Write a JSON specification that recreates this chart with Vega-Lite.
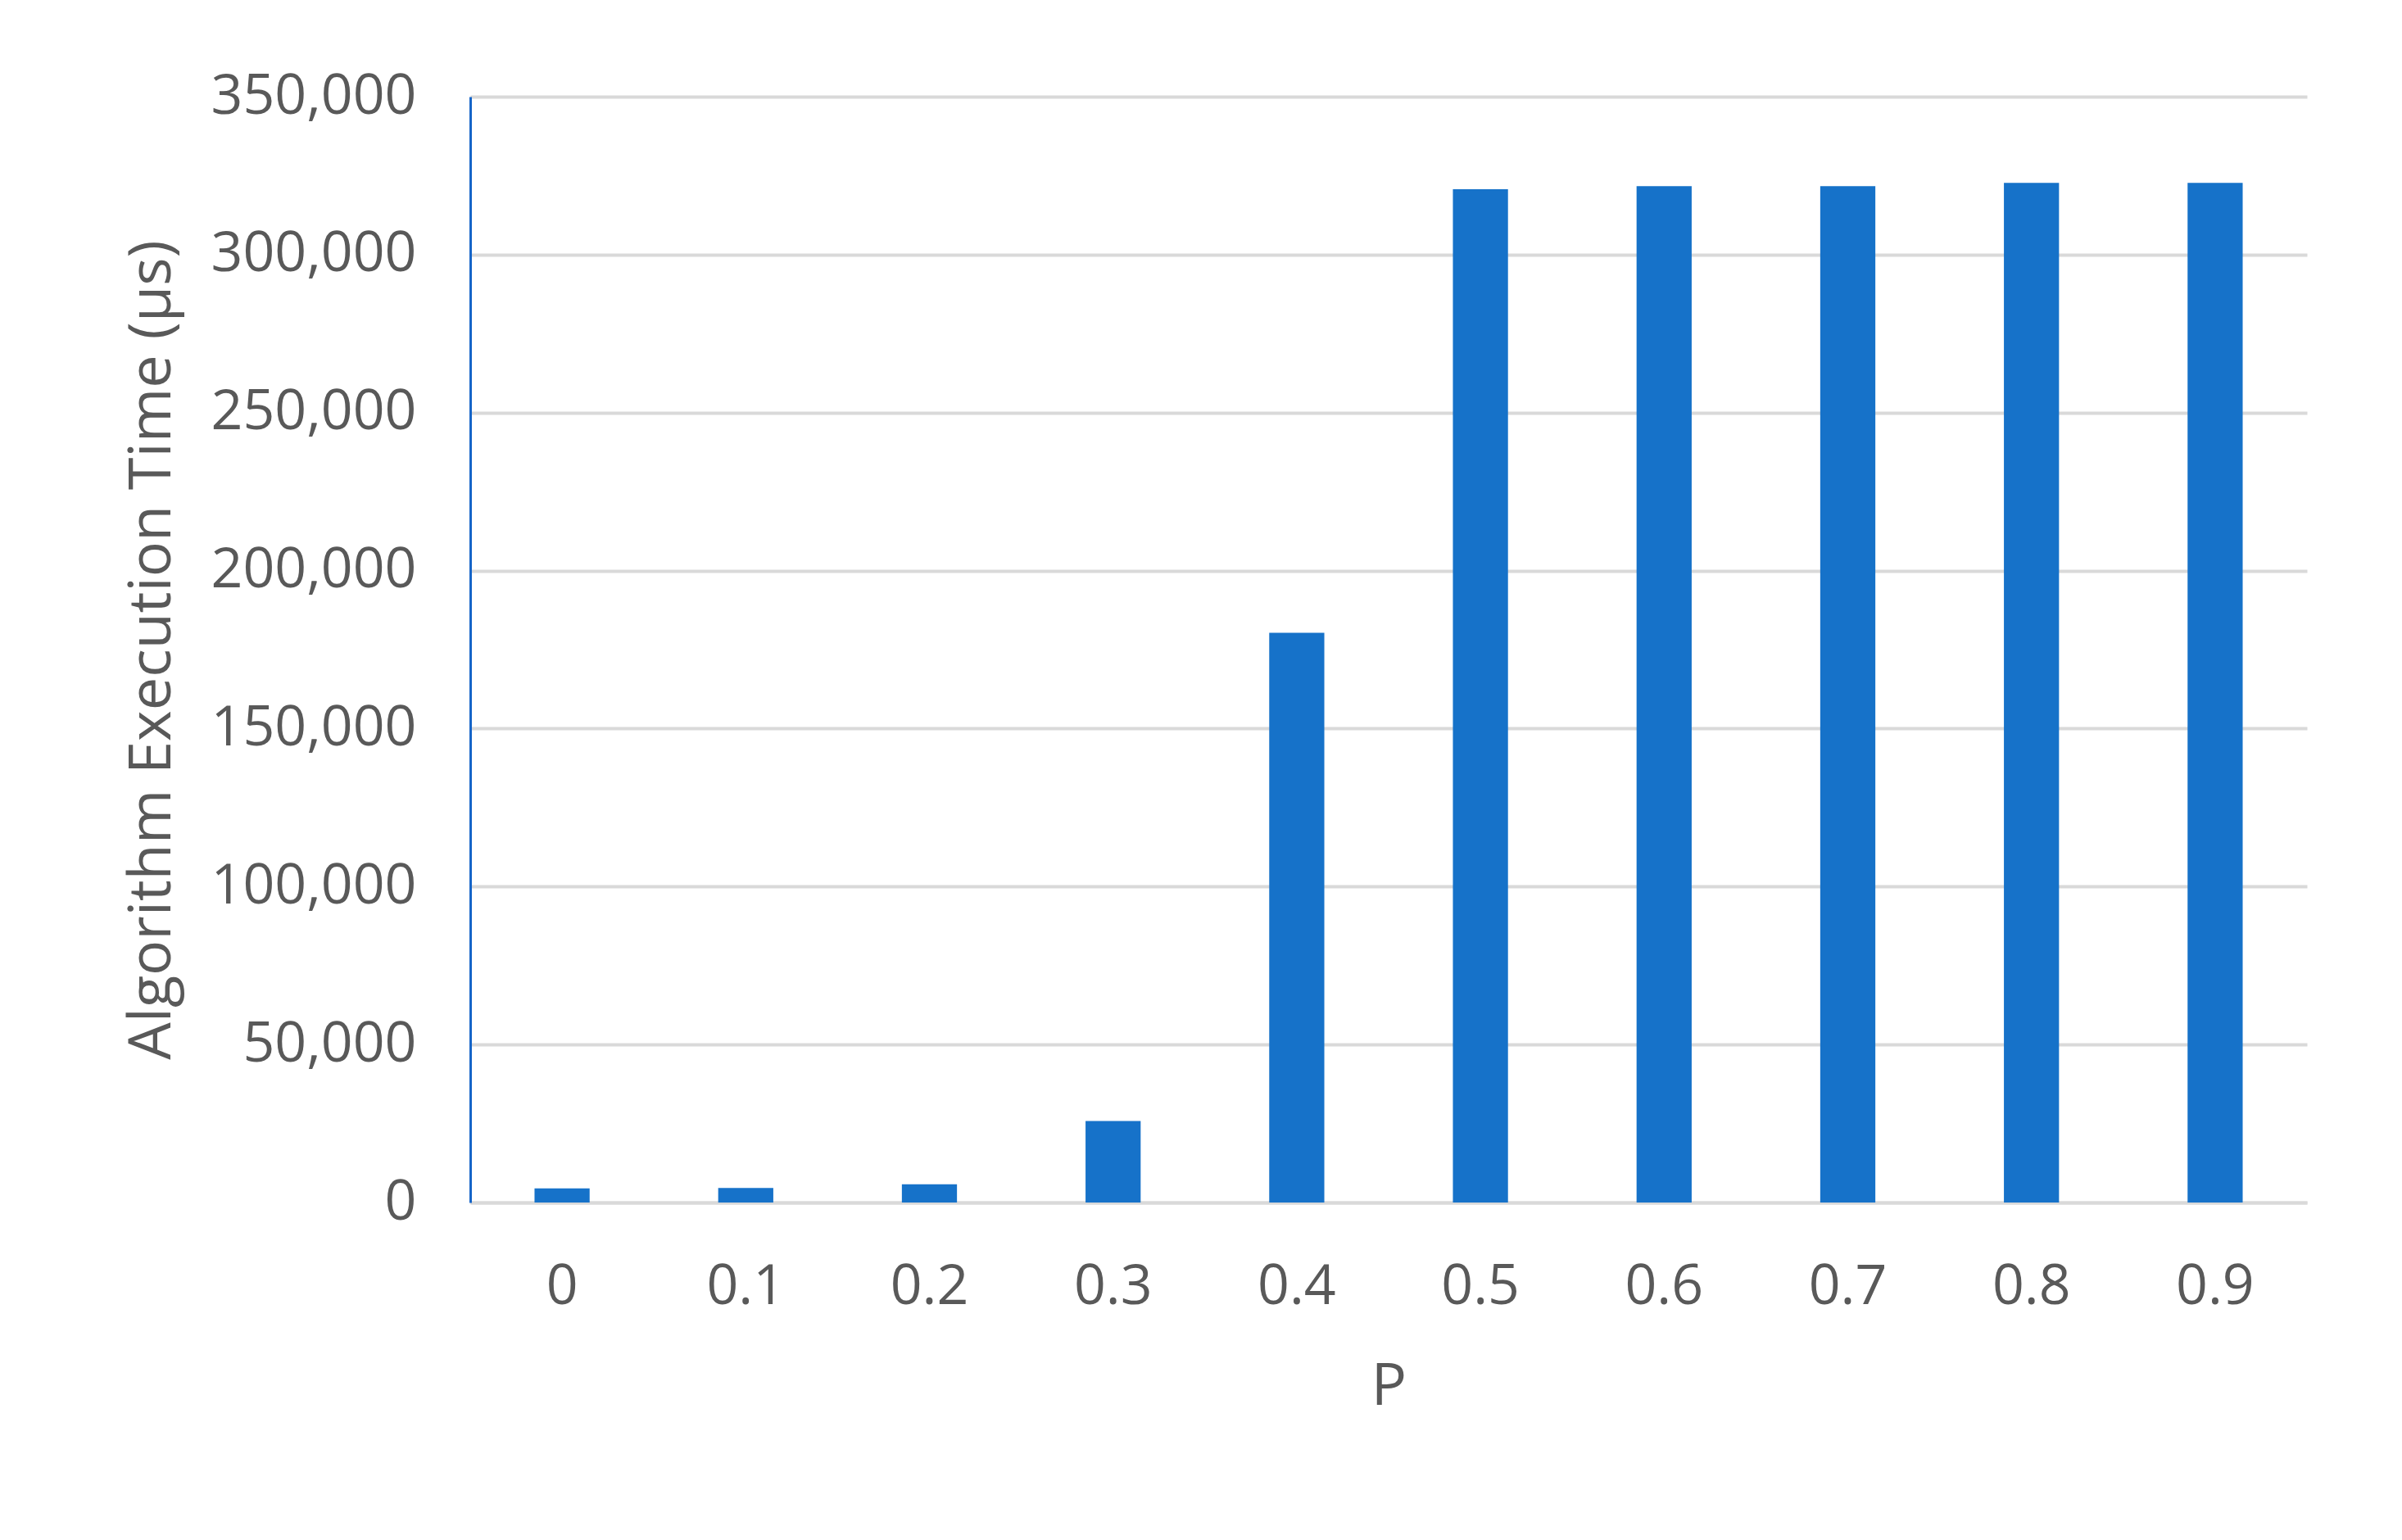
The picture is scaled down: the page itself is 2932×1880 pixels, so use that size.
{
  "$schema": "https://vega.github.io/schema/vega-lite/v6.json",
  "width": 2242,
  "height": 1350,
  "autosize": {"type": "none"},
  "padding": {"left": 574, "top": 118, "right": 116, "bottom": 412},
  "background": "white",
  "config": {
    "view": {"stroke": null},
    "font": "Open Sans"
  },
  "data": {
    "values": [
      {"P": "0", "time": 4500},
      {"P": "0.1", "time": 4600},
      {"P": "0.2", "time": 5800},
      {"P": "0.3", "time": 25800},
      {"P": "0.4", "time": 180300},
      {"P": "0.5", "time": 320700},
      {"P": "0.6", "time": 321700},
      {"P": "0.7", "time": 321700},
      {"P": "0.8", "time": 322700},
      {"P": "0.9", "time": 322700}
    ]
  },
  "layer": [
    {
      "mark": {"type": "bar", "color": "#1672C9"},
      "encoding": {
        "x": {
          "field": "P",
          "type": "ordinal",
          "sort": null,
          "scale": {"paddingInner": 0.7, "paddingOuter": 0.35},
          "axis": {
            "title": "P",
            "labelAngle": 0,
            "labelFontSize": 68,
            "labelColor": "#595959",
            "titleFontSize": 72,
            "titleFontWeight": "normal",
            "titleColor": "#595959",
            "titlePadding": 52,
            "labelPadding": 69,
            "ticks": false,
            "domainColor": "#D9D9D9",
            "domainWidth": 4
          }
        },
        "y": {
          "field": "time",
          "type": "quantitative",
          "scale": {"domain": [0, 350000]},
          "axis": {
            "title": "Algorithm Execution Time (µs)",
            "values": [0, 50000, 100000, 150000, 200000, 250000, 300000, 350000],
            "format": ",.0f",
            "labelLimit": 1000,
            "labelFontSize": 68,
            "labelColor": "#595959",
            "labelPadding": 66,
            "titleFontSize": 72,
            "titleFontWeight": "normal",
            "titleColor": "#595959",
            "titleX": -352,
            "ticks": false,
            "grid": true,
            "gridColor": "#D9D9D9",
            "gridWidth": 4,
            "domainColor": "#1665C8",
            "domainWidth": 3
          }
        }
      }
    }
  ]
}
